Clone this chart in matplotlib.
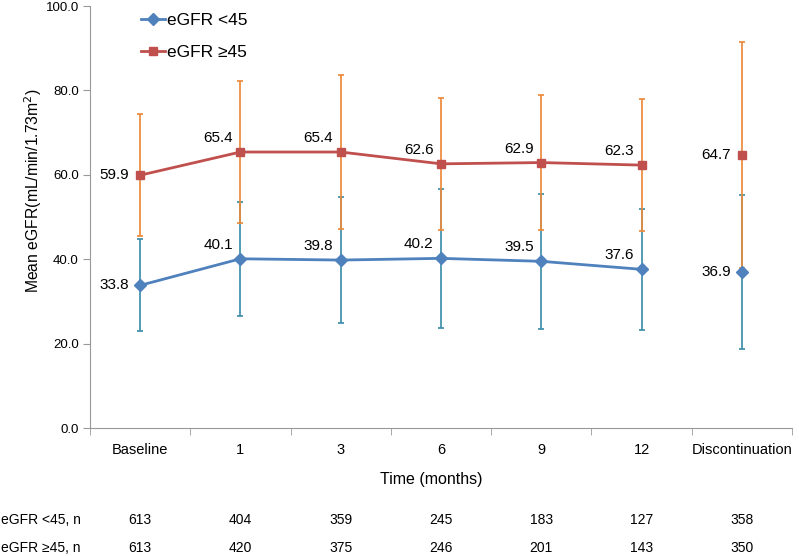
import numpy as np
from matplotlib import pyplot as plt

plt.rcParams["font.family"] = ["Liberation Sans", "DejaVu Sans"]

categories = ["Baseline", "1", "3", "6", "9", "12", "Discontinuation"]
low_mean = [33.8, 40.1, 39.8, 40.2, 39.5, 37.6, 36.9]
low_sd = [10.9, 13.5, 15.0, 16.5, 16.0, 14.4, 18.2]
high_mean = [59.9, 65.4, 65.4, 62.6, 62.9, 62.3, 64.7]
high_sd = [14.4, 16.9, 18.3, 15.7, 15.9, 15.6, 26.8]
low_n = [613, 404, 359, 245, 183, 127, 358]
high_n = [613, 420, 375, 246, 201, 143, 350]

blue, red = "#4F81BD", "#C0504D"
teal, orange = "#3F8FAC", "#EC8A3C"

fig = plt.figure(figsize=(7.99, 5.56), dpi=100)
ax = fig.add_axes([0.1126, 0.2302, 0.8786, 0.759])

x = np.arange(len(categories))
trend = x[:-1]  # discontinuation point is not connected

# error bars first, blue below orange
ax.errorbar(x, low_mean, yerr=low_sd, fmt="none", ecolor=teal, elinewidth=1.25,
            capsize=2.5, capthick=1.25, zorder=2)
ax.errorbar(x, high_mean, yerr=high_sd, fmt="none", ecolor=orange, elinewidth=1.25,
            capsize=2.5, capthick=1.25, zorder=3)

ax.plot(trend, np.array(low_mean)[trend], color=blue, lw=2, zorder=4)
ax.plot(trend, np.array(high_mean)[trend], color=red, lw=2, zorder=4)
ax.plot(x, low_mean, "D", color=blue, ms=6, zorder=5)
ax.plot(x, high_mean, "s", color=red, ms=6, zorder=5)

# legend with proxy handles
h1, = ax.plot([], [], color=blue, lw=2, marker="D", ms=6)
h2, = ax.plot([], [], color=red, lw=2, marker="s", ms=6)
ax.legend([h1, h2], ["eGFR <45", "eGFR \u226545"], loc="upper left",
          bbox_to_anchor=(0.05, 1.02), frameon=False, fontsize=12.5,
          handlelength=1.4, handletextpad=0.1, labelspacing=0.95)

# value labels
for i in x:
    if i == 0 or i == len(x) - 1:
        off = (-8, 0)
        ha, va = "right", "center"
    else:
        off = (-16, 10)
        ha, va = "center", "center"
    ax.annotate(f"{high_mean[i]:.1f}", (i, high_mean[i]), xytext=off,
                textcoords="offset points", ha=ha, va=va, fontsize=11)
    ax.annotate(f"{low_mean[i]:.1f}", (i, low_mean[i]), xytext=off,
                textcoords="offset points", ha=ha, va=va, fontsize=11)

ax.set_xlim(-0.5, len(x) - 0.5)
ax.set_ylim(0, 100)
ax.set_yticks(np.arange(0, 101, 20))
ax.set_yticklabels([f"{v:.1f}" for v in np.arange(0, 101, 20)], fontsize=9.5)
ax.set_xticks(x)
ax.set_xticklabels(categories, fontsize=10.5)
ax.set_xticks(np.arange(-0.5, len(x), 1), minor=True)
ax.tick_params(axis="x", which="major", length=0, pad=11)
ax.tick_params(axis="x", which="minor", length=5, color="#999999", direction="out")
ax.tick_params(axis="y", length=5, color="#999999", direction="out", pad=3)
for s in ["top", "right"]:
    ax.spines[s].set_visible(False)
for s in ["left", "bottom"]:
    ax.spines[s].set_color("#999999")

ax.set_ylabel("Mean eGFR(mL/min/1.73m$^2$)", fontsize=11.3)
ax.yaxis.set_label_coords(-0.066, 0.562)
ax.set_xlabel("Time (months)", fontsize=11.5)
ax.xaxis.set_label_coords(0.486, -0.105)

# n at risk table
for row, (label, vals) in enumerate([("eGFR <45, n", low_n), ("eGFR \u226545, n", high_n)]):
    yfig = 1 - (520 + 28 * row) / 556
    fig.text(0.001, yfig, label, fontsize=10, va="center", ha="left")
    for i, v in enumerate(vals):
        xd = ax.transData.transform((i, 0))[0] / fig.bbox.width
        fig.text(xd, yfig, str(v), fontsize=10, va="center", ha="center")

plt.savefig("out.png", dpi=100)
plt.close()
